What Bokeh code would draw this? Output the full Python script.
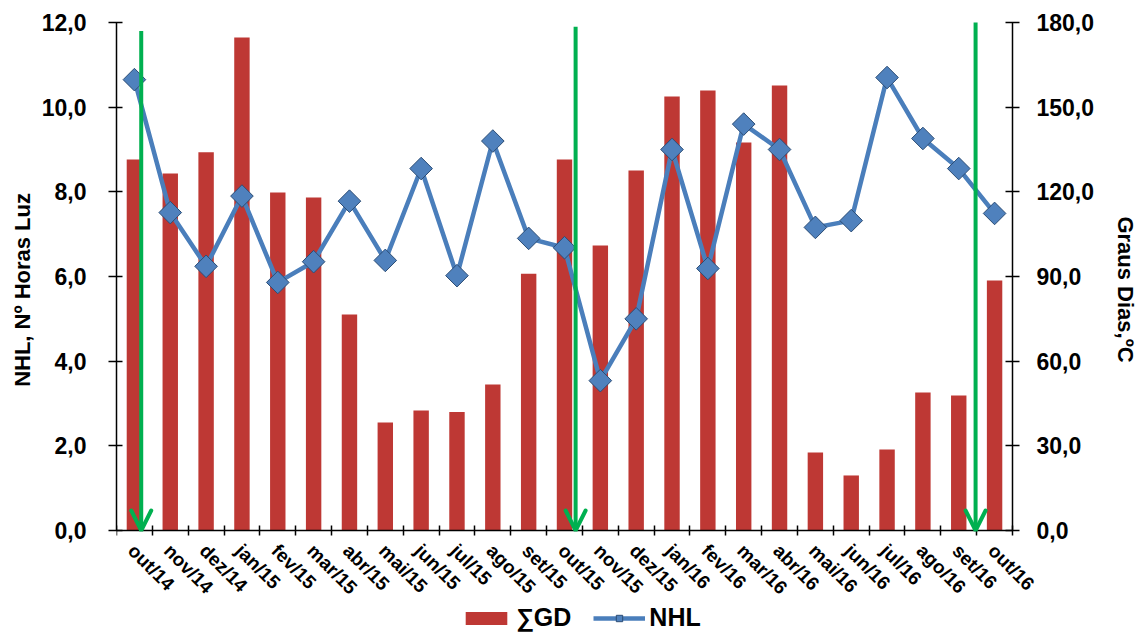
import math
from bokeh.plotting import figure
from bokeh.models import (Range1d, LinearAxis, FixedTicker, CustomJSTickFormatter,
                          Arrow, OpenHead, ColumnDataSource, Legend, LegendItem)
from bokeh.core.properties import value
from bokeh.embed import file_html
from bokeh.resources import INLINE

months = ["out/14", "nov/14", "dez/14", "jan/15", "fev/15", "mar/15", "abr/15",
          "mai/15", "jun/15", "jul/15", "ago/15", "set/15", "out/15", "nov/15",
          "dez/15", "jan/16", "fev/16", "mar/16", "abr/16", "mai/16", "jun/16",
          "jul/16", "ago/16", "set/16", "out/16"]
gd = [131.5, 126.5, 134.0, 174.7, 119.8, 118.0, 76.5, 38.3, 42.5, 42.0, 51.7, 91.0,
      131.5, 101.0, 127.6, 153.8, 155.9, 137.5, 157.7, 27.6, 19.5, 28.7, 48.9, 47.8, 88.6]
nhl = [10.65, 7.51, 6.24, 7.90, 5.86, 6.35, 7.78, 6.38, 8.55, 6.02, 9.20, 6.90,
       6.68, 3.54, 5.00, 9.00, 6.19, 9.60, 9.00, 7.16, 7.32, 10.70, 9.26, 8.55, 7.49]
left_ticks = [0, 2, 4, 6, 8, 10, 12]
right_ticks = [0, 30, 60, 90, 120, 150, 180]
right_title = "Graus Dias,ºC"
left_title = "NHL, Nº Horas Luz"
arrow_x = [0.69, 12.81, 23.97]
arrow_top = [11.8, 11.9, 12.0]
arrow_bottom = [0.0, 0.0, 0.0]

FONT = "Liberation Sans"
n = len(months)
x = [i + 0.5 for i in range(n)]

def comma(v):
    return f"{v:.1f}".replace(".", ",")

# layout: the plot area is 896x508 px; the frame is extended above/right/below so the
# rotated month labels, right-axis texts and legend are drawn inside it
PLOT_W, PLOT_H = 896, 508
EXTRA_T, EXTRA_B, EXTRA_R = 14, 102, 128
left_max, right_max = 12, 180
left_start = -EXTRA_B * left_max / PLOT_H
right_start = -EXTRA_B * right_max / PLOT_H
left_end = left_max + EXTRA_T * left_max / PLOT_H
right_end = right_max + EXTRA_T * right_max / PLOT_H
x_end = n * (PLOT_W + EXTRA_R) / PLOT_W

p = figure(output_backend="svg", toolbar_location=None,
           frame_width=PLOT_W + EXTRA_R, frame_height=PLOT_H + EXTRA_B + EXTRA_T,
           min_border_left=116, min_border_right=0, min_border_top=22 - EXTRA_T,
           min_border_bottom=0,
           x_range=Range1d(0, x_end), y_range=Range1d(left_start, left_end))
p.outline_line_color = None
p.grid.visible = False
p.extra_y_ranges = {"gd": Range1d(right_start, right_end)}

bars = p.vbar(x=x, top=gd, width=0.43, y_range_name="gd",
              fill_color="#BE3834", line_color=None)
line = p.line(x, nhl, line_color="#4A7EBB", line_width=4.5)
marks = p.scatter(x, nhl, marker="square", angle=math.pi / 4, size=16,
                  fill_color="#4F81BD", line_color="#2C4D75", line_width=1)

src = ColumnDataSource(dict(x=arrow_x, top=arrow_top, bottom=arrow_bottom))
p.add_layout(Arrow(source=src, x_start="x", y_start="top", x_end="x", y_end="bottom",
                   line_color="#00B050", line_width=4,
                   end=OpenHead(size=20, line_color="#00B050", line_width=4,
                                line_cap="round")))

# month labels (rotated), below the zero line
p.text(x=x, y=[0] * n, text=months, angle=-math.pi / 4,
       text_align="left", text_baseline="middle", x_offset=-3, y_offset=17,
       text_font=value(FONT), text_font_style="bold", text_font_size="19px",
       text_color="black")

# right axis texts
p.text(x=[n] * len(right_ticks), y=right_ticks, text=[comma(v) for v in right_ticks],
       y_range_name="gd", x_offset=24, text_align="left", text_baseline="middle",
       text_font=value(FONT), text_font_style="bold", text_font_size="23px",
       text_color="black")
p.text(x=[n], y=[right_max / 2], text=[right_title], y_range_name="gd",
       angle=-math.pi / 2, x_offset=113, y_offset=13,
       text_align="center", text_baseline="middle",
       text_font=value(FONT), text_font_style="bold", text_font_size="22px",
       text_color="black")

fmt = CustomJSTickFormatter(code="return tick.toFixed(1).replace('.', ',');")
blank = CustomJSTickFormatter(code="return '';")

# x axis at y = 0
xa = p.xaxis[0]
xa.fixed_location = 0
xa.bounds = (0, n)
xa.ticker = FixedTicker(ticks=list(range(n + 1)), minor_ticks=[])
xa.formatter = blank
xa.major_label_text_font_size = "0px"
xa.major_label_standoff = 0
xa.major_tick_in = 5
xa.major_tick_out = 5
xa.major_tick_line_width = 1.5
xa.axis_line_width = 1.5

# left axis
ya = p.yaxis[0]
ya.ticker = FixedTicker(ticks=left_ticks, minor_ticks=[])
ya.formatter = fmt
ya.bounds = (0, left_max)
ya.axis_label = "\u00a0" * 10 + left_title
ya.major_tick_in = 6
ya.major_tick_out = 8
ya.axis_line_width = 1.5
ya.major_tick_line_width = 1.5
ya.minor_tick_line_color = None
ya.major_label_standoff = 22
ya.major_label_text_font = FONT
ya.major_label_text_font_style = "bold"
ya.major_label_text_font_size = "23px"
ya.major_label_text_color = "black"
ya.axis_label_text_font = FONT
ya.axis_label_text_font_style = "bold"
ya.axis_label_text_font_size = "22px"
ya.axis_label_text_color = "black"
ya.axis_label_standoff = 4

# right axis line/ticks at x = n (its texts are drawn above)
ra = LinearAxis(y_range_name="gd", ticker=FixedTicker(ticks=right_ticks, minor_ticks=[]),
                formatter=blank, bounds=(0, right_max), fixed_location=n)
ra.major_label_text_font_size = "0px"
ra.major_label_standoff = 0
ra.major_tick_in = 7
ra.major_tick_out = 7
ra.major_tick_line_width = 1.5
ra.axis_line_width = 1.5
ra.minor_tick_line_color = None
p.add_layout(ra, "left")

legend = Legend(items=[LegendItem(label="∑GD", renderers=[bars]),
                       LegendItem(label="NHL", renderers=[line, marks])],
                orientation="horizontal", location=(344, 0),
                border_line_color=None, background_fill_alpha=0,
                label_text_font=FONT, label_text_font_style="bold",
                label_text_font_size="25px", label_text_color="black",
                glyph_width=52, glyph_height=16, spacing=22, label_standoff=4,
                padding=0, margin=0)
p.add_layout(legend, "center")

open("out.html", "w").write(file_html(p, INLINE))
